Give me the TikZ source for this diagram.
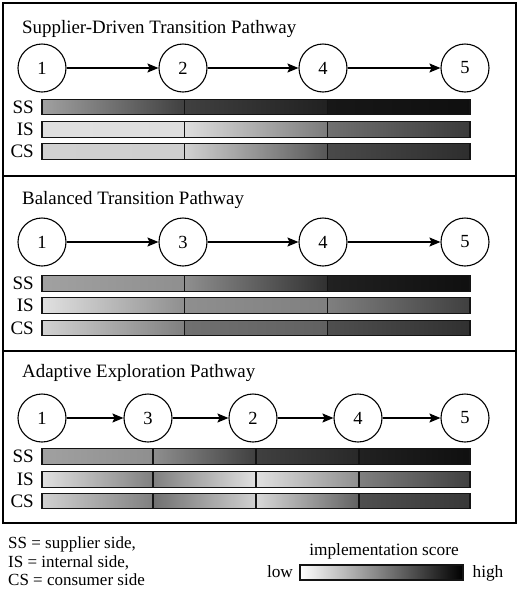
\documentclass[tikz,border=0pt]{standalone}
\usepackage{fontspec}
\setmainfont{Liberation Serif}
\usetikzlibrary{arrows.meta}
\tikzset{
  stage/.style={draw, circle, line width=1.1pt, minimum size=48pt, inner sep=0pt, font=\fontsize{18.5}{20}\selectfont, fill=white},
  flow/.style={line width=1.1pt, -{Stealth[length=11pt,width=9pt,inset=2pt]}},
  frame/.style={line width=1.4pt},
  barline/.style={line width=1.2pt, draw=black!92},
  title/.style={anchor=base west, inner sep=0pt, font=\fontsize{18.9}{22}\selectfont},
  side/.style={anchor=east, inner sep=0pt, font=\fontsize{19}{22}\selectfont},
  legend/.style={anchor=base west, inner sep=0pt, font=\fontsize{17}{20}\selectfont},
  legc/.style={anchor=base, inner sep=0pt, font=\fontsize{17.3}{20}\selectfont},
}
\newcommand\barseg[5]{\shade[left color=#4,right color=#5] (#1,#3-7.75) rectangle (#2,#3+7.75);}
\newcommand\baroutline[2]{\draw[barline] (42,#1-7.75) rectangle (470,#1+7.75);
  \foreach \dx in {#2} {\draw[barline] (\dx,#1-7.75) -- (\dx,#1+7.75);}}
\begin{document}
\begin{tikzpicture}[x=1pt,y=-1pt]
\useasboundingbox (0,0) rectangle (520,590);
\fill[white] (0,0) rectangle (520,590);
% frames
\draw[frame] (3,3) rectangle (516,523);
\draw[frame] (3,176) -- (516,176);
\draw[frame] (3,351) -- (516,351);

% ---------- Panel 1 ----------
\node[title] (t1) at (22,33) {Supplier-Driven Transition Pathway};
\node[stage] (a1) at (42,68) {1};
\node[stage] (a2) at (183,68) {2};
\node[stage] (a4) at (323,68) {4};
\node[stage] (a5) at (465,68) {5};
\draw[flow] (a1) -- (a2);
\draw[flow] (a2) -- (a4);
\draw[flow] (a4) -- (a5);
\node[side] (ss1) at (34,107) {SS};
\node[side] (is1) at (34,129.5) {IS};
\node[side] (cs1) at (34,151.5) {CS};
% SS
\barseg{42}{184.7}{107}{black!37}{black!75}
\barseg{184.7}{327.3}{107}{black!75}{black!87}
\barseg{327.3}{470}{107}{black!91}{black!94}
% IS
\barseg{42}{184.7}{129.5}{black!12}{black!13}
\barseg{184.7}{327.3}{129.5}{black!13}{black!52}
\barseg{327.3}{470}{129.5}{black!56}{black!77}
% CS
\barseg{42}{184.7}{151.5}{black!18}{black!19}
\barseg{184.7}{327.3}{151.5}{black!18}{black!66}
\barseg{327.3}{470}{151.5}{black!71}{black!82}
\baroutline{107}{184.7,327.3}
\baroutline{129.5}{184.7,327.3}
\baroutline{151.5}{184.7,327.3}

% ---------- Panel 2 ----------
\node[title] (t2) at (22,204) {Balanced Transition Pathway};
\node[stage] (b1) at (42,242) {1};
\node[stage] (b3) at (183,242) {3};
\node[stage] (b4) at (323,242) {4};
\node[stage] (b5) at (465,242) {5};
\draw[flow] (b1) -- (b3);
\draw[flow] (b3) -- (b4);
\draw[flow] (b4) -- (b5);
\node[side] (ss2) at (34,283.5) {SS};
\node[side] (is2) at (34,305.5) {IS};
\node[side] (cs2) at (34,328) {CS};
\barseg{42}{184.7}{283.5}{black!37}{black!44}
\barseg{184.7}{327.3}{283.5}{black!44}{black!81}
\barseg{327.3}{470}{283.5}{black!87}{black!94}
\barseg{42}{184.7}{305.5}{black!12}{black!44}
\barseg{184.7}{327.3}{305.5}{black!44}{black!50}
\barseg{327.3}{470}{305.5}{black!50}{black!75}
\barseg{42}{184.7}{328}{black!18}{black!50}
\barseg{184.7}{327.3}{328}{black!56}{black!62}
\barseg{327.3}{470}{328}{black!69}{black!81}
\baroutline{283.5}{184.7,327.3}
\baroutline{305.5}{184.7,327.3}
\baroutline{328}{184.7,327.3}

% ---------- Panel 3 ----------
\node[title] (t3) at (22,377) {Adaptive Exploration Pathway};
\node[stage] (c1) at (42,418) {1};
\node[stage] (c3) at (148,418) {3};
\node[stage] (c2) at (253,418) {2};
\node[stage] (c4) at (358,418) {4};
\node[stage] (c5) at (465,418) {5};
\draw[flow] (c1) -- (c3);
\draw[flow] (c3) -- (c2);
\draw[flow] (c2) -- (c4);
\draw[flow] (c4) -- (c5);
\node[side] (ss3) at (34,456.5) {SS};
\node[side] (is3) at (34,479.5) {IS};
\node[side] (cs3) at (34,501) {CS};
\barseg{42}{153}{456.5}{black!37}{black!44}
\barseg{153}{256}{456.5}{black!44}{black!75}
\barseg{256}{359}{456.5}{black!75}{black!84}
\barseg{359}{470}{456.5}{black!87}{black!94}
\barseg{42}{153}{479.5}{black!12}{black!50}
\barseg{153}{256}{479.5}{black!50}{black!12}
\barseg{256}{359}{479.5}{black!12}{black!44}
\barseg{359}{470}{479.5}{black!50}{black!75}
\barseg{42}{153}{501}{black!18}{black!50}
\barseg{153}{256}{501}{black!56}{black!18}
\barseg{256}{359}{501}{black!15}{black!62}
\barseg{359}{470}{501}{black!69}{black!78}
\baroutline{456.5}{153,256,359}
\baroutline{479.5}{153,256,359}
\baroutline{501}{153,256,359}

% ---------- Legend ----------
\node[legend] (l1) at (8,548) {SS = supplier side,};
\node[legend] (l2) at (8,567) {IS = internal side,};
\node[legend] (l3) at (8,585) {CS = consumer side};
\node[legc] (score) at (384,555) {implementation score};
\shade[left color=white, right color=black] (300,565) rectangle (463,580);
\draw[barline] (300,565) rectangle (463,580);
\node[legc] (low) at (280,577) {low};
\node[legc] (high) at (488,577) {high};
\end{tikzpicture}
\end{document}
